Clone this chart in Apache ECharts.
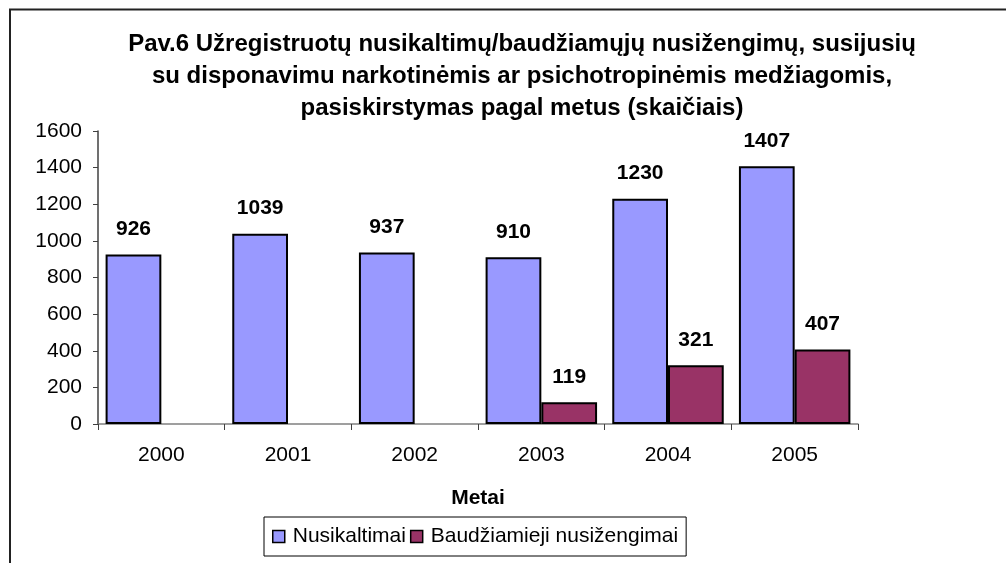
<!DOCTYPE html>
<html>
<head>
<meta charset="utf-8">
<script src="https://cdn.jsdelivr.net/npm/echarts@6/dist/echarts.min.js"></script>
<style>
  html, body { margin: 0; padding: 0; background: #fff; }
  #chart { width: 1006px; height: 563px; }
</style>
</head>
<body>
<div id="chart"></div>
<script>
// metai
const years = ["2000", "2001", "2002", "2003", "2004", "2005"];
// nusikaltimai
const crimes = [926, 1039, 937, 910, 1230, 1407];
// baudžiamieji nusižengimai (iki 2003 m. nebuvo)
const misdemeanours = [null, null, null, 119, 321, 407];
const seriesNames = ["Nusikaltimai", "Baudžiamieji nusižengimai"];

const font = "'Liberation Sans', Arial, sans-serif";

const chart = echarts.init(document.getElementById("chart"));

const labelStyle = {
  show: true,
  position: "top",
  distance: 15,
  color: "#000",
  fontSize: 21,
  fontWeight: "bold",
  fontFamily: font,
};

chart.setOption({
  backgroundColor: "#fff",
  animation: false,
  textStyle: { fontFamily: font },
  // rėmelis aplink diagramą
  graphic: [
    {
      type: "rect",
      shape: { x: 10, y: 9.5, width: 1200, height: 800 },
      style: { fill: "none", stroke: "#222", lineWidth: 2 },
      silent: true,
    },
  ],
  title: {
    text:
      "Pav.6 Užregistruotų nusikaltimų/baudžiamųjų nusižengimų, susijusių\n" +
      "su disponavimu narkotinėmis ar psichotropinėmis medžiagomis,\n" +
      "pasiskirstymas pagal metus (skaičiais)",
    left: 517,
    top: 23,
    textAlign: "center",
    textStyle: {
      fontFamily: font,
      fontSize: 24,
      fontWeight: "bold",
      color: "#000",
      lineHeight: 32,
    },
  },
  legend: {
    data: seriesNames,
    left: 264,
    top: 517,
    orient: "horizontal",
    padding: [9, 8, 9, 8],
    itemWidth: 12,
    itemHeight: 12,
    itemGap: 4,
    icon: "rect",
    borderColor: "#000",
    borderWidth: 1,
    itemStyle: { borderColor: "#000", borderWidth: 1.5 },
    textStyle: { fontFamily: font, fontSize: 21, color: "#000", padding: [0, 0, 0, 3] },
  },
  grid: {
    left: 98,
    right: 148,
    top: 131,
    bottom: 139,
    containLabel: false,
  },
  xAxis: {
    type: "category",
    data: years,
    name: "Metai",
    nameLocation: "middle",
    nameGap: 64,
    nameTextStyle: { fontFamily: font, fontSize: 21, fontWeight: "bold", color: "#000" },
    axisLine: { lineStyle: { color: "#808080", width: 1.5 } },
    axisTick: { show: true, length: 6, lineStyle: { color: "#404040" } },
    axisLabel: { interval: 0, margin: 21, fontSize: 21, color: "#000", fontFamily: font },
  },
  yAxis: {
    type: "value",
    min: 0,
    max: 1600,
    interval: 200,
    axisLine: { show: true, lineStyle: { color: "#404040", width: 1.5 } },
    axisTick: { show: true, length: 5, lineStyle: { color: "#404040" } },
    splitLine: { show: false },
    axisLabel: {
      margin: 16,
      fontSize: 21,
      color: "#000",
      fontFamily: font,
      formatter: (v) => String(v),
    },
  },
  series: [
    {
      name: seriesNames[0],
      type: "bar",
      data: crimes,
      barGap: "0%",
      barCategoryGap: "12%",
      itemStyle: { color: "#9999ff", borderColor: "#000", borderWidth: 2 },
      label: labelStyle,
    },
    {
      name: seriesNames[1],
      type: "bar",
      data: misdemeanours,
      itemStyle: { color: "#993366", borderColor: "#000", borderWidth: 2 },
      label: labelStyle,
    },
  ],
});
</script>
</body>
</html>
